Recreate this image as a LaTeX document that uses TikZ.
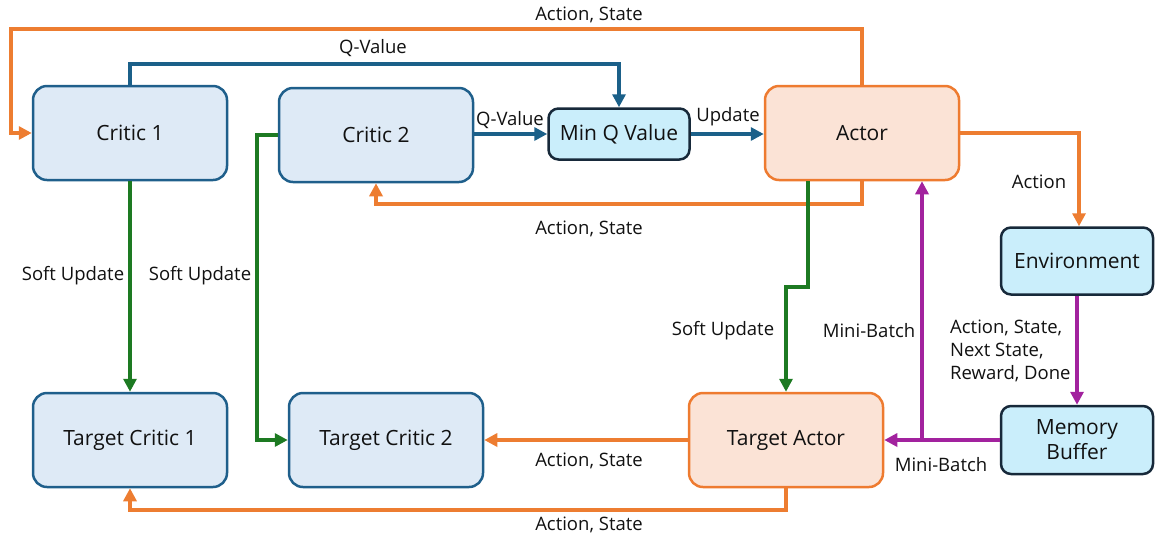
\documentclass[tikz,border=0pt]{standalone}
\usepackage{fontspec}
\setmainfont{Open Sans}
\usetikzlibrary{arrows.meta}
\definecolor{cfill}{HTML}{DEEAF6}
\definecolor{cdraw}{HTML}{1F5F8B}
\definecolor{qfill}{HTML}{CAEEFB}
\definecolor{qdraw}{HTML}{17293A}
\definecolor{afill}{HTML}{FBE3D6}
\definecolor{adraw}{HTML}{EE7B30}
\definecolor{oline}{HTML}{ED7D31}
\definecolor{bline}{HTML}{1B6089}
\definecolor{gline}{HTML}{1D7A22}
\definecolor{pline}{HTML}{A2229E}
\definecolor{txt}{HTML}{111111}
\tikzset{
  box/.style={rounded corners=14pt, line width=2.5pt, minimum width=194pt, minimum height=94pt, inner sep=0pt, text=txt, font=\fontsize{21}{24}\selectfont, align=center},
  criticbox/.style={box, fill=cfill, draw=cdraw},
  actorbox/.style={box, fill=afill, draw=adraw},
  cyanbox/.style={box, fill=qfill, draw=qdraw, rounded corners=10pt},
  conn/.style={line width=3.2pt, -{Triangle[length=13pt,width=13pt]}},
  oarrow/.style={conn, draw=oline},
  barrow/.style={conn, draw=bline},
  garrow/.style={conn, draw=gline},
  parrow/.style={conn, draw=pline},
  lbl/.style={text=txt, font=\fontsize{18.5}{23}\selectfont, inner sep=0pt},
}
\begin{document}
\begin{tikzpicture}[x=1pt,y=-1pt]
\useasboundingbox (0,0) rectangle (1155,539);
% nodes
\node[criticbox] (c1) at (130,133) {Critic 1};
\node[criticbox] (c2) at (376,135) {Critic 2};
\node[cyanbox, minimum width=141pt, minimum height=51pt] (mq) at (619,134) {Min Q Value};
\node[actorbox] (ac) at (862,133) {Actor};
\node[cyanbox, minimum width=152pt, minimum height=67pt] (env) at (1077,261) {Environment};
\node[cyanbox, minimum width=152pt, minimum height=68pt] (mem) at (1077,440) {Memory\\[1pt]Buffer};
\node[actorbox] (ta) at (786,440) {Target Actor};
\node[criticbox] (tc1) at (130,440) {Target Critic 1};
\node[criticbox] (tc2) at (386,440) {Target Critic 2};
% coordinates
\coordinate (j1) at (922,440);
% orange connectors
\draw[oarrow] (ac.north) -- (ac.north |- 0,29) -- (11,29) -- (11,133) -- (c1.west);
\draw[oarrow] (ac.south) -- (ac.south |- 0,204) -- (376,204) -- (c2.south);
\draw[oarrow] (ac.east) -- (1079,133) -- (env.north -| 1079,0);
\draw[oarrow] (ta.west) -- (tc2.east);
\draw[oarrow] (ta.south) -- (786,510) -- (130,510) -- (tc1.south);
% blue connectors
\draw[barrow] (c1.north) -- (130,64) -- (619,64) -- (mq.north);
\draw[barrow] (c2.east |- mq.west) -- (mq.west);
\draw[barrow] (mq.east) -- (ac.west |- mq.east);
% green connectors
\draw[garrow] (c1.south) -- (tc1.north);
\draw[garrow] (c2.west) -- (257,135) -- (257,440) -- (tc2.west);
\draw[garrow] (ac.south -| 808,0) -- (808,287) -- (786,287) -- (ta.north);
% purple connectors
\draw[parrow] (env.south) -- (mem.north);
\draw[parrow] (mem.west) -- (ta.east);
\draw[parrow] (j1) -- (ac.south -| j1);
% labels
\node[lbl] at (589,15) {Action, State};
\node[lbl] at (373,48) {Q-Value};
\node[lbl] at (510,120) {Q-Value};
\node[lbl] at (728,117) {Update};
\node[lbl] at (589,229) {Action, State};
\node[lbl] at (1039,182) {Action};
\node[lbl] at (73,276) {Soft Update};
\node[lbl] at (200,276) {Soft Update};
\node[lbl] at (723,331) {Soft Update};
\node[lbl] at (869,331) {Mini-Batch};
\node[lbl, align=left, anchor=west] at (950,351) {Action, State,\\Next State,\\Reward, Done};
\node[lbl] at (589,461) {Action, State};
\node[lbl] at (941,465) {Mini-Batch};
\node[lbl] at (589,525) {Action, State};
\end{tikzpicture}
\end{document}
